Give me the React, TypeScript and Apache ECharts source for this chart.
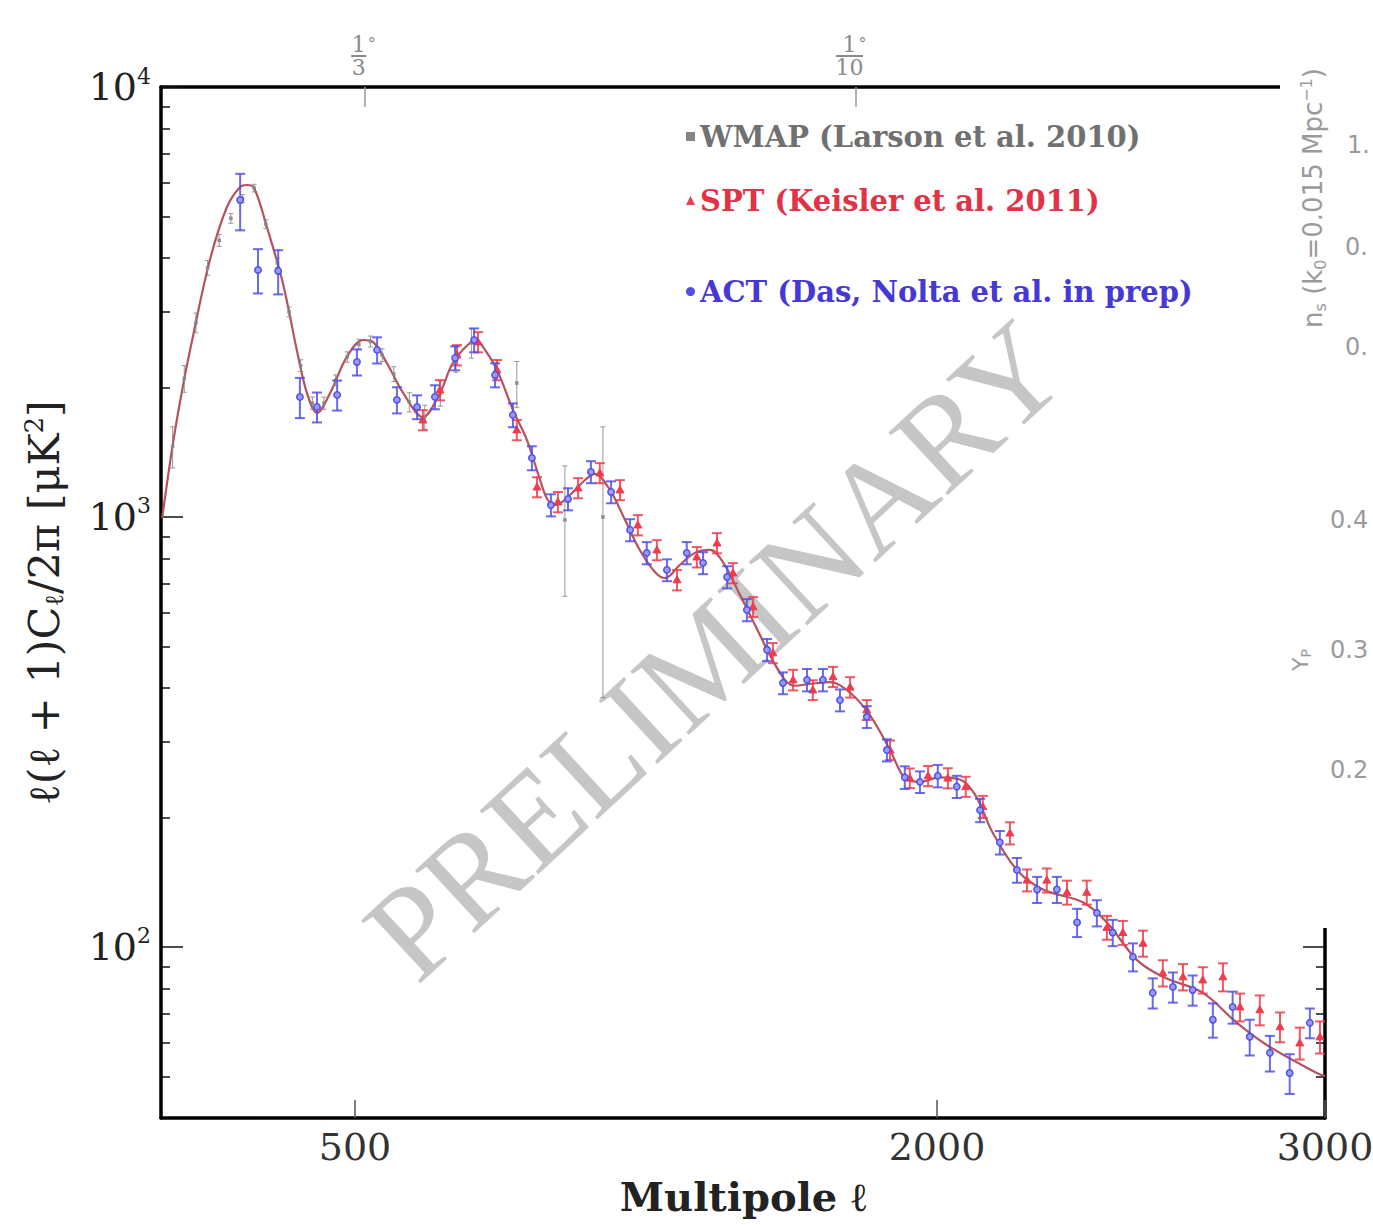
import React, { useEffect, useRef } from 'react';
import * as echarts from 'echarts';

// Best-fit model spectrum: multipole and band power D_ell [uK^2]
const THEORY_ELL = [3, 31, 57, 82, 126, 170, 204, 222, 240, 273, 314, 350, 376, 402, 436, 479, 521, 546, 582, 624, 675, 719, 752, 796, 817, 830, 866, 907, 943, 977, 997, 1018, 1054, 1093, 1118, 1157, 1196, 1234, 1273, 1299, 1337, 1376, 1415, 1453, 1492, 1531, 1569, 1608, 1634, 1672, 1724, 1776, 1827, 1879, 1917, 1956, 2008, 2059, 2098, 2144, 2206, 2273, 2376, 2438, 2515, 2582, 2685, 2773, 2858, 2979, 3000];
const THEORY_DL = [995, 1487, 2028, 2622, 3960, 5259, 5852, 5917, 5823, 4724, 3502, 2446, 1943, 1746, 1943, 2356, 2580, 2553, 2281, 1943, 1708, 1943, 2281, 2539, 2566, 2485, 2198, 1774, 1511, 1219, 1095, 1066, 1125, 1219, 1259, 1156, 984, 838, 745, 721, 773, 825, 838, 773, 659, 561, 478, 418, 405, 409, 413, 390, 346, 287, 247, 242, 248, 245, 226, 184, 151, 136, 127, 114, 93.3, 85.2, 78.2, 66.6, 58.5, 50.9, 50.1];

// ACT band powers
const ACT_ELL = [204, 250, 302, 358, 402, 454, 505, 557, 608, 660, 706, 758, 807, 861, 907, 956, 1005, 1049, 1108, 1160, 1209, 1252, 1304, 1355, 1397, 1459, 1510, 1562, 1603, 1665, 1706, 1750, 1819, 1871, 1917, 1956, 2002, 2051, 2111, 2162, 2206, 2258, 2309, 2361, 2412, 2453, 2505, 2556, 2608, 2659, 2711, 2762, 2806, 2858, 2909, 2961];
const ACT_DL = [5461, 3753, 3733, 1902, 1803, 1922, 2293, 2446, 1872, 1803, 1902, 2343, 2580, 2139, 1727, 1372, 1066, 1101, 1273, 1143, 933, 825, 753, 825, 782, 725, 608, 491, 411, 418, 418, 375, 343, 287, 248, 242, 250, 236, 208, 175, 151, 136, 136, 114, 120, 108, 94.8, 78.2, 80.7, 79.4, 67.7, 72.5, 61.8, 56.7, 50.9, 66.6];
const ACT_ERR = [820, 443, 440, 204, 144, 154, 160, 171, 131, 115, 122, 150, 165, 137, 110, 88, 63, 65, 75, 67, 55, 49, 44, 49, 46, 43, 36, 29, 24, 25, 25, 22, 20, 17, 15, 14, 15, 14, 13, 11, 10, 9.5, 9.5, 8.6, 8.4, 7.6, 7.1, 6.3, 6.5, 6.4, 6.2, 6.2, 5.9, 5.4, 5.4, 5.3];

// SPT band powers
const SPT_ELL = [675, 719, 763, 817, 866, 917, 969, 1023, 1075, 1131, 1183, 1229, 1278, 1330, 1381, 1433, 1474, 1526, 1577, 1629, 1680, 1732, 1776, 1819, 1879, 1930, 1977, 2028, 2074, 2118, 2188, 2232, 2283, 2335, 2386, 2438, 2479, 2531, 2582, 2634, 2685, 2737, 2781, 2832, 2884, 2935, 2987];
const SPT_DL = [1681, 1974, 2381, 2553, 2198, 1594, 1174, 1084, 1168, 1266, 1156, 958, 838, 714, 807, 870, 741, 618, 483, 418, 396, 425, 402, 356, 287, 247, 250, 247, 236, 212, 184, 143, 143, 134, 134, 111, 108, 102, 87.0, 85.2, 83.8, 85.2, 72.5, 71.4, 65.2, 59.8, 61.8];
const SPT_ERR = [91, 107, 129, 138, 119, 86, 63, 59, 63, 68, 62, 52, 45, 39, 44, 47, 40, 33, 26, 23, 21, 23, 22, 19, 15, 13, 13.5, 13.3, 12.7, 12.5, 10.9, 8.4, 9.2, 8.6, 8.6, 7.1, 6.9, 7.1, 6.1, 6.0, 5.9, 6.4, 5.4, 5.7, 5.2, 5.1, 5.3];

// WMAP band powers
const WMAP_ELL = [30, 60, 90, 120, 150, 180, 210, 240, 270, 300, 330, 360, 390, 420, 450, 480, 510, 540, 570, 600, 640, 680, 720, 760, 800, 917, 1041, 1139];
const WMAP_DL = [1460, 2100, 2830, 3800, 4400, 4950, 5500, 5820, 4800, 3900, 3000, 2250, 1840, 1840, 2080, 2356, 2520, 2560, 2380, 2150, 1850, 1710, 1940, 2330, 2540, 2049, 984, 1000];
const WMAP_ERR = [160, 150, 150, 150, 140, 130, 120, 120, 110, 95, 80, 70, 60, 60, 60, 65, 70, 75, 80, 85, 95, 110, 130, 160, 200, 250, 330, 620];

// Axes
const X_MIN = 0;
const X_MAX = 3000;
const X_TICKS = [500, 2000, 3000];
const TOP_TICKS = [525, 1790];
const TOP_TICK_LABELS = [['1', '3'], ['1', '10']];
const Y_MIN = 40;
const Y_MAX = 10000;
const Y_DECADES = [100, 1000, 10000];
const Y_MINOR = [50, 60, 70, 80, 90, 200, 300, 400, 500, 600, 700, 800, 900, 2000, 3000, 4000, 5000, 6000, 7000, 8000, 9000];

// Tick labels of the neighbouring panel strip at the right edge
const SIDE_LABELS = ['1.', '0.', '0.', '0.4', '0.3', '0.2'];

const LEGEND_WMAP = 'WMAP (Larson et al. 2010)';
const LEGEND_SPT = 'SPT (Keisler et al. 2011)';
const LEGEND_ACT = 'ACT (Das, Nolta et al. in prep)';

const SERIF = 'DejaVu Serif';
const SANS = 'DejaVu Sans';

const ACT_COLOR = '#5050e6';
const SPT_COLOR = '#f03c4c';
const WMAP_COLOR = '#858585';
const MODEL_COLOR = '#b5525e';
const SIDE_GRAY = '#9a9a9a';

type Marker = 'circle' | 'triangle' | 'square';

function errorBarSeries(
  name: string,
  ell: number[],
  dl: number[],
  err: number[],
  color: string,
  marker: Marker,
  lineWidth: number,
  cap: number,
  z: number
) {
  return {
    type: 'custom',
    name,
    z,
    clip: true,
    itemStyle: { color },
    encode: { x: 0, y: 1 },
    data: ell.map((l, i) => [l, dl[i], err[i]]),
    renderItem: (_params: any, api: any) => {
      const l = api.value(0);
      const d = api.value(1);
      const e = api.value(2);
      const c = api.coord([l, d]);
      const hi = api.coord([l, d + e]);
      const lo = api.coord([l, Math.max(d - e, Y_MIN)]);
      const ls = { stroke: color, lineWidth, opacity: 0.85 };
      const children: any[] = [
        { type: 'line', shape: { x1: c[0], y1: hi[1], x2: c[0], y2: lo[1] }, style: ls },
        { type: 'line', shape: { x1: c[0] - cap, y1: hi[1], x2: c[0] + cap, y2: hi[1] }, style: ls },
        { type: 'line', shape: { x1: c[0] - cap, y1: lo[1], x2: c[0] + cap, y2: lo[1] }, style: ls },
      ];
      if (marker === 'circle') {
        children.push({
          type: 'circle',
          shape: { cx: c[0], cy: c[1], r: 3.2 },
          style: { fill: '#9a9aff', stroke: color, lineWidth: 1.5 },
        });
      } else if (marker === 'triangle') {
        children.push({
          type: 'polygon',
          shape: { points: [[c[0], c[1] - 4], [c[0] - 4, c[1] + 3], [c[0] + 4, c[1] + 3]] },
          style: { fill: color, stroke: color, lineWidth: 1 },
        });
      } else {
        children.push({
          type: 'rect',
          shape: { x: c[0] - 1.8, y: c[1] - 1.8, width: 3.6, height: 3.6 },
          style: { fill: color, opacity: 0.85 },
        });
      }
      return { type: 'group', children };
    },
  };
}

function decadeLabel(v: number) {
  return `{b|10}{s|${Math.round(Math.log10(v))}}`;
}

function fractionLabel(v: number) {
  const i = TOP_TICKS.indexOf(v);
  if (i < 0) return '';
  const [num, den] = TOP_TICK_LABELS[i];
  const bar = den.length > 1 ? 'barw' : 'bar';
  return `{n|${num}}{deg|°}\n{${bar}|\u00a0}{sp|\u00a0}\n{n|${den}}{sp|\u00a0}`;
}

const numRich = {
  b: { fontSize: 38, fontFamily: SERIF, color: '#222', lineHeight: 44 },
  s: { fontSize: 22, fontFamily: SERIF, color: '#222', verticalAlign: 'top', lineHeight: 22 },
};

function legendBlock(name: string, icon: string, color: string, top: number) {
  return {
    data: [{ name, icon }],
    left: 681,
    top,
    orient: 'horizontal',
    itemWidth: 9,
    itemHeight: 9,
    itemGap: 0,
    selectedMode: false,
    textStyle: { color, fontSize: 29, fontFamily: SERIF, fontWeight: 'bold' },
  };
}

export default function App() {
  const ref = useRef<HTMLDivElement>(null);

  useEffect(() => {
    if (!ref.current) return;
    const chart = echarts.init(ref.current, undefined, { renderer: 'svg' });

    const yTickAxisBase = {
      type: 'value',
      min: Math.log10(Y_MIN),
      max: Math.log10(Y_MAX),
      splitLine: { show: false },
    };

    const sideYs = [145, 247, 347, 520, 650, 770];
    const sideXs = [1347, 1345, 1345, 1330, 1330, 1330];

    chart.setOption({
      animation: false,
      backgroundColor: '#ffffff',
      textStyle: { fontFamily: SERIF },
      grid: { left: 161, right: 48, top: 87, bottom: 107, outerBoundsMode: 'none' },
      legend: [
        legendBlock(LEGEND_WMAP, 'rect', '#707070', 117),
        legendBlock(LEGEND_SPT, 'triangle', '#e23245', 181),
        legendBlock(LEGEND_ACT, 'circle', '#4638d6', 272),
      ],
      xAxis: [
        {
          type: 'value',
          position: 'bottom',
          min: X_MIN,
          max: X_MAX,
          name: 'Multipole ℓ',
          nameLocation: 'middle',
          nameGap: 58,
          nameTextStyle: { fontSize: 40, fontFamily: SERIF, color: '#222', fontWeight: 'bold' },
          axisLine: { lineStyle: { color: '#000', width: 3.5 } },
          axisTick: { customValues: X_TICKS, inside: true, length: 18, lineStyle: { color: '#555', width: 1.5 } },
          axisLabel: {
            customValues: X_TICKS,
            fontSize: 38,
            fontFamily: SERIF,
            color: '#333',
            margin: 10,
            formatter: (v: number) => String(v),
          },
          splitLine: { show: false },
        },
        {
          type: 'value',
          position: 'top',
          min: X_MIN,
          max: X_MAX,
          axisLine: { lineStyle: { color: '#000', width: 3.5 } },
          axisTick: { customValues: TOP_TICKS, inside: true, length: 20, lineStyle: { color: '#999', width: 1.5 } },
          axisLabel: {
            customValues: TOP_TICKS,
            margin: 10,
            formatter: fractionLabel,
            rich: {
              n: { fontSize: 22, fontFamily: SERIF, color: '#8a8a8a', lineHeight: 19 },
              deg: { fontSize: 16, fontFamily: SERIF, color: '#8a8a8a', width: 12, verticalAlign: 'top', lineHeight: 19 },
              sp: { width: 12, fontSize: 2, lineHeight: 4, height: 2 },
              bar: { width: 15, height: 2, fontSize: 2, lineHeight: 4, backgroundColor: '#8a8a8a' },
              barw: { width: 27, height: 2, fontSize: 2, lineHeight: 4, backgroundColor: '#8a8a8a' },
            },
          },
          splitLine: { show: false },
        },
      ],
      yAxis: [
        {
          type: 'log',
          logBase: 10,
          min: Y_MIN,
          max: Y_MAX,
          position: 'left',
          name: 'ℓ(ℓ + 1)C{sub|ℓ}/2π [μK{sup|2}]',
          nameLocation: 'middle',
          nameRotate: 90,
          nameGap: 94,
          nameTextStyle: {
            fontSize: 43,
            fontFamily: SERIF,
            color: '#222',
            rich: {
              sub: { fontSize: 26, fontFamily: SERIF, color: '#222', verticalAlign: 'bottom', lineHeight: 46 },
              sup: { fontSize: 26, fontFamily: SERIF, color: '#222', verticalAlign: 'top', lineHeight: 46 },
            },
          },
          axisLine: { show: true, lineStyle: { color: '#000', width: 3.5 } },
          axisTick: { show: false },
          axisLabel: { show: false },
          splitLine: { show: false },
        },
        {
          ...yTickAxisBase,
          position: 'left',
          axisLine: { show: false },
          axisTick: { customValues: Y_DECADES.map(Math.log10), inside: true, length: 22, lineStyle: { color: '#111', width: 1.5 } },
          axisLabel: {
            customValues: Y_DECADES.map(Math.log10),
            margin: 10,
            formatter: (v: number) => decadeLabel(Math.pow(10, v)),
            rich: numRich,
          },
        },
        {
          ...yTickAxisBase,
          position: 'left',
          axisLine: { show: false },
          axisTick: { customValues: Y_MINOR.map(Math.log10), inside: true, length: 9, lineStyle: { color: '#111', width: 1.5 } },
          axisLabel: { show: false },
        },
        {
          ...yTickAxisBase,
          position: 'right',
          axisLine: { show: true, lineStyle: { color: '#000', width: 3.5 } },
          axisTick: { customValues: Y_DECADES.map(Math.log10), inside: true, length: 22, lineStyle: { color: '#111', width: 1.5 } },
          axisLabel: { show: false },
        },
        {
          ...yTickAxisBase,
          position: 'right',
          axisLine: { show: false },
          axisTick: { customValues: Y_MINOR.map(Math.log10), inside: true, length: 9, lineStyle: { color: '#111', width: 1.5 } },
          axisLabel: { show: false },
        },
      ],
      series: [
        {
          type: 'line',
          name: 'model',
          xAxisIndex: 0,
          yAxisIndex: 0,
          data: THEORY_ELL.map((l, i) => [l, THEORY_DL[i]]),
          showSymbol: false,
          smooth: 0.35,
          z: 3,
          lineStyle: { color: MODEL_COLOR, width: 2.2 },
          silent: true,
        },
        { ...errorBarSeries(LEGEND_WMAP, WMAP_ELL, WMAP_DL, WMAP_ERR, WMAP_COLOR, 'square', 1, 2.5, 4), xAxisIndex: 0, yAxisIndex: 0 },
        { ...errorBarSeries(LEGEND_SPT, SPT_ELL, SPT_DL, SPT_ERR, SPT_COLOR, 'triangle', 2, 5, 5), xAxisIndex: 0, yAxisIndex: 0 },
        { ...errorBarSeries(LEGEND_ACT, ACT_ELL, ACT_DL, ACT_ERR, ACT_COLOR, 'circle', 2, 5, 6), xAxisIndex: 0, yAxisIndex: 0 },
      ],
      graphic: [
        {
          type: 'text',
          x: 715,
          y: 650,
          rotation: 0.747,
          z: 1,
          silent: true,
          style: {
            text: 'PRELIMINARY',
            fontSize: 132,
            fontFamily: 'Liberation Serif',
            fill: '#c6c6c6',
            align: 'center',
            verticalAlign: 'middle',
          },
        },
        // neighbouring panel strip on the right edge
        {
          type: 'rect',
          z: 50,
          silent: true,
          shape: { x: 1280, y: 0, width: 93, height: 928 },
          style: { fill: '#ffffff' },
        },
        {
          type: 'text',
          x: 1313,
          y: 198,
          rotation: Math.PI / 2,
          z: 51,
          style: {
            text: 'n{sub|s} (k{sub|0}=0.015 Mpc{sup|−1})',
            fontSize: 26,
            fontFamily: SANS,
            fill: SIDE_GRAY,
            align: 'center',
            verticalAlign: 'middle',
            rich: {
              sub: { fontSize: 16, fontFamily: SANS, fill: SIDE_GRAY, verticalAlign: 'bottom', lineHeight: 30 },
              sup: { fontSize: 16, fontFamily: SANS, fill: SIDE_GRAY, verticalAlign: 'top', lineHeight: 30 },
            },
          },
        },
        {
          type: 'text',
          x: 1300,
          y: 660,
          rotation: Math.PI / 2,
          z: 51,
          style: {
            text: 'Y{sub|P}',
            fontSize: 22,
            fontFamily: SANS,
            fill: SIDE_GRAY,
            align: 'center',
            verticalAlign: 'middle',
            rich: { sub: { fontSize: 14, fontFamily: SANS, fill: SIDE_GRAY, verticalAlign: 'bottom', lineHeight: 26 } },
          },
        },
        ...SIDE_LABELS.map((t, i) => ({
          type: 'text',
          x: sideXs[i],
          y: sideYs[i],
          z: 51,
          style: {
            text: t,
            fontSize: 24,
            fontFamily: SANS,
            fill: SIDE_GRAY,
            align: 'left',
            verticalAlign: 'middle',
          },
        })),
      ],
    });

    return () => chart.dispose();
  }, []);

  return (
    <div
      ref={ref}
      style={{ position: 'absolute', left: 0, top: 0, width: 1373, height: 1225, background: '#fff' }}
    />
  );
}
